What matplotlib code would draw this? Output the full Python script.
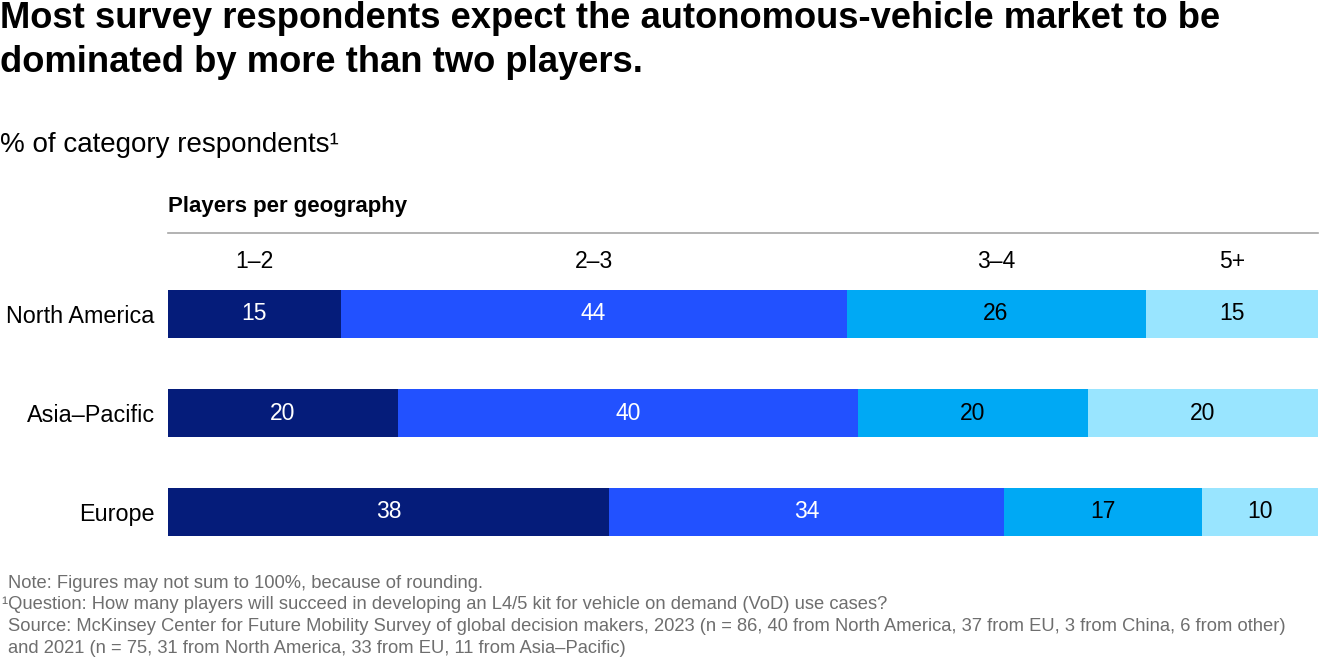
import matplotlib
matplotlib.use("Agg")
import matplotlib.pyplot as plt

plt.rcParams['font.family'] = ['Liberation Sans', 'DejaVu Sans']

title_lines = ["Most survey respondents expect the autonomous-vehicle market to be",
               "dominated by more than two players."]
subtitle = "% of category respondents\u00b9"
group_label = "Players per geography"
categories = ["North America", "Asia\u2013Pacific", "Europe"]
series_names = ["1\u20132", "2\u20133", "3\u20134", "5+"]
values = {
    "1\u20132": [15, 20, 38],
    "2\u20133": [44, 40, 34],
    "3\u20134": [26, 20, 17],
    "5+":       [15, 20, 10],
}
colors = ["#051C7A", "#2251FF", "#00A9F4", "#99E5FF"]
text_colors = ["white", "white", "black", "black"]
footnotes = [
    "Note: Figures may not sum to 100%, because of rounding.",
    "\u00b9Question: How many players will succeed in developing an L4/5 kit for vehicle on demand (VoD) use cases?",
    "Source: McKinsey Center for Future Mobility Survey of global decision makers, 2023 (n = 86, 40 from North America, 37 from EU, 3 from China, 6 from other)",
    "and 2021 (n = 75, 31 from North America, 33 from EU, 11 from Asia\u2013Pacific)",
]

W, H = 1320, 661
fig = plt.figure(figsize=(W / 100, H / 100), dpi=100)

def fy(py):
    return 1 - py / H

def fx(px):
    return px / W

# axes placement
ax_left, ax_right = 168, 1318
ax_top, ax_bot = 233, 545
ax = fig.add_axes([fx(ax_left), fy(ax_bot), fx(ax_right) - fx(ax_left), (ax_bot - ax_top) / H])
unit = 99.0
c0 = 314.0
ax.set_ylim((ax_bot - c0) / unit, (ax_top - c0) / unit)
ax.set_xlim(0, 100)

n = len(categories)
ypos = list(range(n))
totals = [sum(values[s][i] for s in series_names) for i in range(n)]
lefts = [0.0] * n
for si, s in enumerate(series_names):
    widths = [values[s][i] / totals[i] * 100 for i in range(n)]
    ax.barh(ypos, widths, left=lefts, height=0.485, color=colors[si],
            edgecolor="none")
    for i in range(n):
        ax.text(lefts[i] + widths[i] / 2, ypos[i], str(values[s][i]),
                ha="center", va="center", fontsize=16.5, color=text_colors[si])
    # column header centered on first-row segment
    ax.text(lefts[0] + widths[0] / 2, (262 - c0) / unit, s, ha="center",
            va="center", fontsize=16.5, color="black")
    lefts = [lefts[i] + widths[i] for i in range(n)]

ax.set_yticks(ypos)
ax.set_yticklabels(categories, fontsize=16.8)
ax.tick_params(axis="y", length=0, pad=9.5)
ax.set_xticks([])
for sp in ["left", "right", "bottom"]:
    ax.spines[sp].set_visible(False)
ax.spines["top"].set_color("#A6A6A6")
ax.spines["top"].set_linewidth(1.2)

fig.text(fx(0), fy(18), title_lines[0], fontsize=26.2, fontweight="bold", va="center", ha="left")
fig.text(fx(0), fy(63), title_lines[1], fontsize=26.2, fontweight="bold", va="center", ha="left")
fig.text(fx(0), fy(145), subtitle, fontsize=20, va="center", ha="left")
fig.text(fx(168), fy(207), group_label, fontsize=16, fontweight="bold", va="center", ha="left")

for k, line in enumerate(footnotes):
    fig.text(fx(8 if k != 1 else 2), fy(583 + k * 21.7), line, fontsize=13.2,
             color="#6E6E6E", va="center", ha="left")

fig.savefig("out.png", dpi=100)
